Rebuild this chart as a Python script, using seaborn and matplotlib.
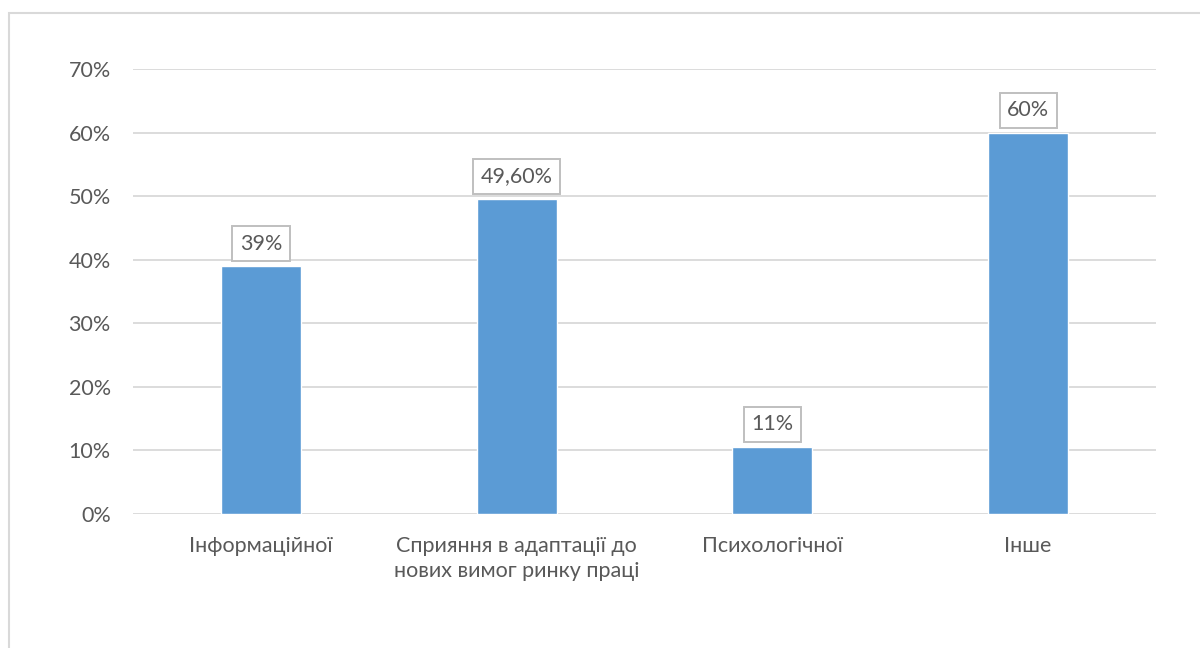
import matplotlib
matplotlib.use("Agg")
import matplotlib.pyplot as plt
import seaborn as sns
import pandas as pd
from matplotlib.patches import Rectangle

categories = ["Інформаційної", "Сприяння в адаптації до\nнових вимог ринку праці", "Психологічної", "Інше"]
values = [39, 49.6, 10.6, 60]
value_labels = ["39%", "49,60%", "11%", "60%"]
yticks = [0, 10, 20, 30, 40, 50, 60, 70]

text_color = "#595959"
grid_color = "#D9D9D9"
fs = 15.5

sns.set_theme(style="white")
plt.rcParams["font.family"] = ["Lato", "DejaVu Sans"]

df = pd.DataFrame({"cat": categories, "val": values})

fig = plt.figure(figsize=(12, 6.48), dpi=100)
ax = fig.add_axes([133 / 1200, 1 - 514 / 648, 1023 / 1200, 445 / 648])

sns.barplot(data=df, x="cat", y="val", color="#5B9BD5", width=0.3125, saturation=1, ax=ax, zorder=3)

ax.set_ylim(0, 70)
ax.set_xlim(-0.5, len(categories) - 0.5)
ax.set_yticks(yticks)
ax.set_yticklabels([f"{t}%" for t in yticks])
ax.set_xlabel("")
ax.set_ylabel("")
for t in yticks:
    ax.axhline(t, color=grid_color, lw=1.3, zorder=1)
for s in ax.spines.values():
    s.set_visible(False)
ax.tick_params(axis="both", length=0, labelsize=fs, labelcolor=text_color)
ax.tick_params(axis="x", pad=16)
ax.tick_params(axis="y", pad=16)
for lbl in ax.get_xticklabels():
    lbl.set_linespacing(1.3)

for i, (v, lab) in enumerate(zip(values, value_labels)):
    ax.annotate(lab, (i, v), xytext=(0, 9), textcoords="offset points",
                ha="center", va="bottom", fontsize=fs, color=text_color,
                bbox=dict(boxstyle="square,pad=0.35", fc="white", ec="#BFBFBF", lw=1.4),
                zorder=4)

fig.patches.append(Rectangle((9 / 1200, -0.1), 1.2, 1.1 - 13 / 648,
                             transform=fig.transFigure, fill=False,
                             ec=grid_color, lw=1.5))

fig.savefig("out.png", dpi=100)
